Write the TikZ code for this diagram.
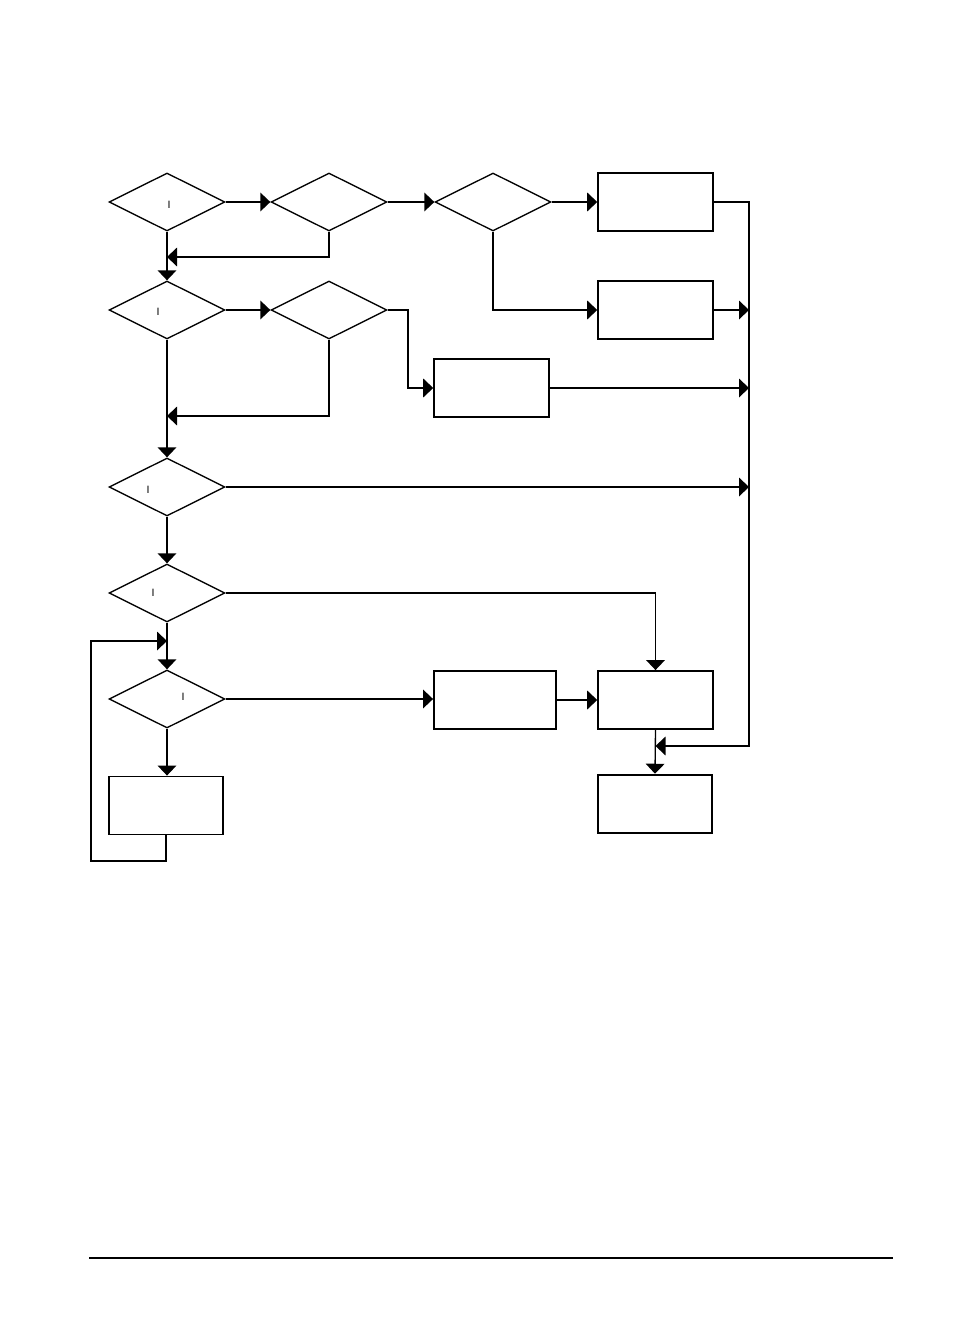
\documentclass[tikz,border=0pt]{standalone}
\usepackage{fontspec}
\setmainfont{Liberation Sans}
\usetikzlibrary{shapes.geometric,arrows.meta}
\begin{document}
\begin{tikzpicture}[x=0.75pt,y=-0.75pt,
  dec/.style={draw,line width=1pt,shape=diamond,inner sep=0pt,minimum width=87pt,minimum height=43.5pt},
  proc/.style={draw,line width=1.4pt,rectangle,inner sep=0pt},
  conn/.style={line width=1pt},
  arr/.style={conn,-{Triangle[length=7.5pt,width=14pt]}},
  tick/.style={inner sep=0pt,font=\fontsize{8}{8}\selectfont}]
\useasboundingbox (0,0) rectangle (974,1320);
% decisions
\node[dec] (D1) at (167,202) {};
\node[dec] (D2) at (329,202) {};
\node[dec] (D3) at (493,202) {};
\node[dec] (D4) at (167,310) {};
\node[dec] (D5) at (329,310) {};
\node[dec] (D6) at (167,487) {};
\node[dec] (D7) at (167,593) {};
\node[dec] (D8) at (167,699) {};
% marks
\node[tick] (m1) at (169,205) {I};
\node[tick] (m4) at (158,312) {I};
\node[tick] (m6) at (148,490) {I};
\node[tick] (m7) at (153,593) {I};
\node[tick] (m8) at (183,697) {I};
% processes (centres)
\node[proc,minimum width=86pt,minimum height=43.5pt] (B1) at (655.5,202) {};
\node[proc,minimum width=86pt,minimum height=43.5pt] (B2) at (655.5,310) {};
\node[proc,minimum width=86pt,minimum height=43pt] (B3) at (491.5,388) {};
\node[proc,minimum width=91.5pt,minimum height=43.5pt] (B6) at (495,700) {};
\node[proc,minimum width=86pt,minimum height=43.5pt] (B5) at (655.5,700) {};
\node[proc,minimum width=86pt,minimum height=43.5pt] (B4) at (166,805.5) {};
\node[proc,minimum width=85.5pt,minimum height=44pt] (B7) at (655,804) {};
% junction coordinates
\coordinate (j1) at (167,257);
\coordinate (j2) at (167,416);
\coordinate (j3) at (167,641);
\coordinate (r1) at (749,202);
\coordinate (r2) at (749,746);
\coordinate (k5) at (408,310);
\coordinate (l2) at (91,861);
\coordinate (l3) at (91,641);
\coordinate (f1) at (89,1258);
\coordinate (f2) at (893,1258);
% row 1
\draw[arr] (D1.east) -- (D2.west);
\draw[arr] (D2.east) -- (D3.west);
\draw[arr] (D3.east) -- (D3.east -| B1.west);
\draw[arr] (D3.south) |- (B2.west);
\draw[arr] (D2.south) |- (j1);
\draw[arr] (D1.south) -- (D4.north);
% row 2
\draw[arr] (D4.east) -- (D5.west);
\draw[arr] (D5.east) -- (k5) |- (B3.west);
\draw[arr] (D5.south) |- (j2);
\draw[arr] (D4.south) -- (D6.north);
% lower column
\draw[arr] (D6.south) -- (D7.north);
\draw[arr] (D7.south) -- (D8.north);
\draw[arr] (D8.south) -- (D8.south |- B4.north);
\draw[arr] (B4.south) -- (B4.south |- l2) -- (l2) -- (l3) -- (j3);
\draw[arr] (D7.east) -| (B5.north);
\draw[arr] (D8.east) -- (D8.east -| B6.west);
\draw[arr] (B6.east) -- (B5.west);
\draw[arr] (B5.south) -- (B7.north);
% right collector
\draw[arr] (B1.east) -- (B1.east -| r1) -- (r2) -- (r2 -| B5.south);
\draw[arr] (B2.east) -- (B2.east -| r1);
\draw[arr] (B3.east) -- (B3.east -| r1);
\draw[arr] (D6.east) -- (D6.east -| r1);
% footer rule
\draw[line width=0.8pt] (f1) -- (f2);
\end{tikzpicture}
\end{document}
